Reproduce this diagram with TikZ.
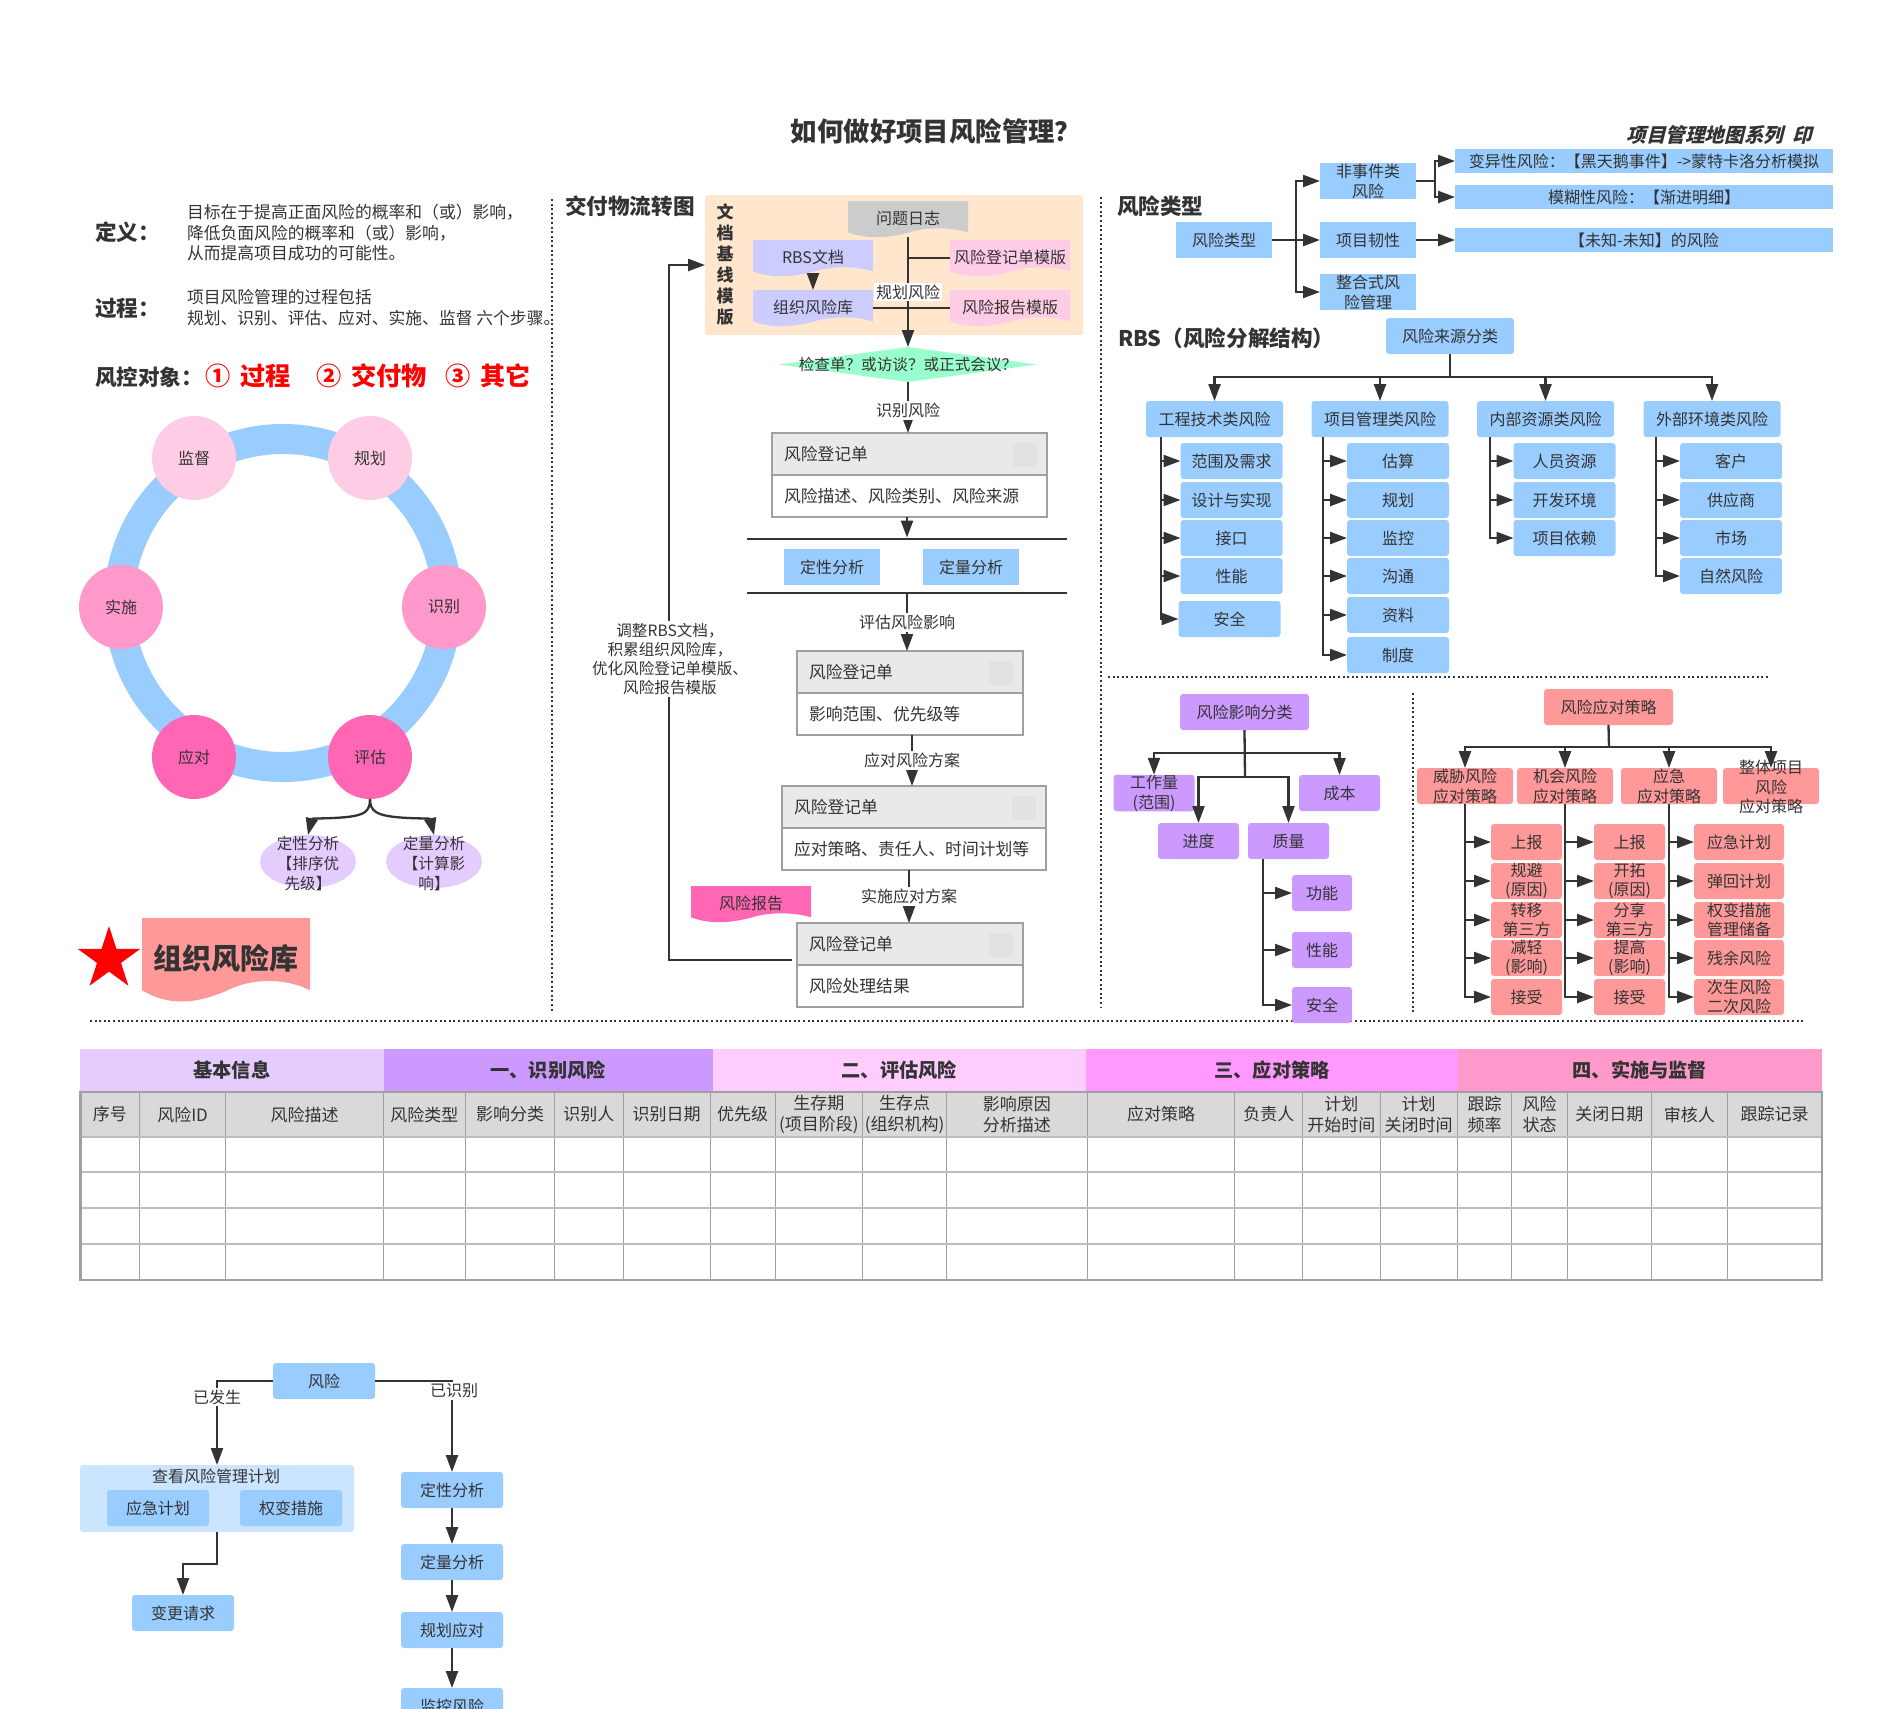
\documentclass[tikz,border=0pt]{standalone}
\usepackage{fontspec}
\setmainfont{Noto Sans CJK SC}
\usepackage{xcolor}
\usetikzlibrary{arrows.meta,shapes.geometric}
\definecolor{ink}{HTML}{333333}
\definecolor{mapblue}{HTML}{99CCFF}
\definecolor{paleblue}{HTML}{CCE5FF}
\definecolor{mapviolet}{HTML}{CC99FF}
\definecolor{lilac}{HTML}{E5CCFF}
\definecolor{mapred}{HTML}{FF9999}
\definecolor{softpink}{HTML}{FFCCE6}
\definecolor{midpink}{HTML}{FF99CC}
\definecolor{hotpink}{HTML}{FF66B3}
\definecolor{mintgreen}{HTML}{99FFCC}
\definecolor{peach}{HTML}{FFE6CC}
\definecolor{docblue}{HTML}{CCCCFF}
\definecolor{docgray}{HTML}{CCCCCC}
\definecolor{cardgray}{HTML}{E9E9E9}
\definecolor{markgray}{HTML}{E2E2E2}
\definecolor{framegray}{HTML}{A0A0A0}
\definecolor{headgray}{HTML}{D9D9D9}
\definecolor{bandA}{HTML}{E5CCFF}
\definecolor{bandB}{HTML}{CC99FF}
\definecolor{bandC}{HTML}{FFCCFF}
\definecolor{bandD}{HTML}{FF99FF}
\definecolor{bandE}{HTML}{FF99CC}
\newcommand{\bodyfont}{\fontsize{8}{10}\selectfont}
\newcommand{\notefont}{\fontsize{8.4}{10.25}\selectfont}
\newcommand{\headfont}{\bfseries\fontsize{10.8}{12}\selectfont}
\newcommand{\bigfont}{\bfseries\fontsize{12.6}{15}\selectfont}
% wavy document shape with its name on top
\newcommand{\docnode}[7]{%
  \fill[#6] (#2,#3) -- (#2+#4,#3) -- (#2+#4,#3+.87*#5)
    .. controls (#2+.85*#4,#3+.72*#5) and (#2+.65*#4,#3+.72*#5) .. (#2+.5*#4,#3+.88*#5)
    .. controls (#2+.3*#4,#3+1.05*#5) and (#2+.15*#4,#3+1.05*#5) .. (#2,#3+.87*#5) -- cycle;
  \node[minimum width=#4*.5pt, minimum height=#5*.5pt] (#1) at (#2+.5*#4,#3+.5*#5) {\raisebox{1pt}{#7}};}
% register card: grey head, white body, small mark in the head
\newcommand{\riskcard}[6]{%
  \node[cardpart, fill=cardgray, text width=(#4-#2)*.5pt-12pt] (#1head) at (#2,#3) {#5};
  \node[cardpart, fill=white, text width=(#4-#2)*.5pt-12pt] (#1) at (#2,#3+42) {#6};
  \node[fill=markgray, minimum size=12pt, anchor=north east] (#1mark) at (#4-10,#3+10) {};}
\begin{document}
\begin{tikzpicture}[
    x=.5pt, y=-.5pt,
    every node/.style={inner sep=0pt, outer sep=0pt, align=center, font=\bodyfont, text=ink},
    flow/.style={draw=ink, line width=1.15pt, -{Triangle[length=8.5pt,width=6pt]}},
    plainline/.style={draw=ink, line width=1.15pt},
    dotline/.style={draw=ink, line width=1pt, dash pattern=on 1pt off 1.3pt},
    edgelbl/.style={fill=white, inner sep=1pt},
    rootbox/.style={fill=mapblue, rounded corners=1.5pt, minimum height=18pt, minimum width=68.5pt},
    leafbox/.style={fill=mapblue, rounded corners=1.5pt, minimum height=18pt, minimum width=51pt},
    widebox/.style={fill=mapblue, minimum width=189pt, minimum height=12pt},
    violetbox/.style={fill=mapviolet, rounded corners=1.5pt, minimum width=40.5pt, minimum height=18pt},
    smallviolet/.style={fill=mapviolet, rounded corners=1.5pt, minimum width=30pt, minimum height=18pt},
    redroot/.style={fill=mapred, rounded corners=1.5pt, minimum width=48pt, minimum height=18pt},
    redbox/.style={fill=mapred, rounded corners=1.5pt, minimum width=35.5pt, minimum height=18pt},
    redwide/.style={redbox, minimum width=45pt},
    ringnode/.style={circle, minimum size=42pt},
    oval/.style={ellipse, fill=lilac, minimum width=48pt, minimum height=26.5pt},
    cardpart/.style={draw=framegray, line width=.75pt, anchor=north west, inner xsep=6pt,
        align=left, minimum height=21pt, font=\notefont},
    cellline/.style={draw=framegray, line width=.5pt},
    rowline/.style={draw=framegray!70, line width=.9pt},
    tableframe/.style={draw=framegray, line width=1.1pt},
    rednote/.style={font=\bigfont, text=red, anchor=west}
]
\useasboundingbox (0,0) rectangle (1892,1709);

\node[font=\bfseries\fontsize{13.2}{15}\selectfont] (title) at (936,131) {如何做好项目风险管理？};
\node[font=\bfseries\fontsize{9.8}{12}\selectfont, xslant=.25, transform shape] (series) at (1721,135) {项目管理地图系列~~印};

% dividers
\draw[dotline] (552,199) -- (552,1011);
\draw[dotline] (1101,197) -- (1101,1007);
\draw[dotline] (1108,677) -- (1770,677);
\draw[dotline] (1413,693) -- (1413,1013);
\draw[dotline] (90,1021) -- (1803,1021);

% left column
\node[font=\headfont, anchor=west] (defhead) at (95,232) {定义：};
\node[anchor=west, align=left, font=\notefont] (deftext) at (187,233) {目标在于提高正面风险的概率和（或）影响，\\降低负面风险的概率和（或）影响，\\从而提高项目成功的可能性。};
\node[font=\headfont, anchor=west] (prochead) at (95,308) {过程：};
\node[anchor=west, align=left, font=\notefont] (proctext) at (187,307.5) {项目风险管理的过程包括\\规划、识别、评估、应对、实施、监督 六个步骤。};
\node[font=\headfont, anchor=west] (objhead) at (95,377) {风控对象：};
\node[rednote] (objone) at (205,376) {①\hspace{5pt}过程};
\node[rednote] (objtwo) at (316,376) {②\hspace{5pt}交付物};
\node[rednote] (objthree) at (445,376) {③\hspace{5pt}其它};

% process ring
\draw[mapblue, line width=15pt] (283,603) circle [radius=164];
\foreach \nm/\cx/\cy/\clr/\lbl in {supervise/194/458/softpink/监督, planning/370/458/softpink/规划,
    identify/444/607/midpink/识别, assess/370/757/hotpink/评估,
    respond/194/757/hotpink/应对, implement/121/607/midpink/实施}{
  \node[ringnode, fill=\clr] (\nm) at (\cx,\cy) {\lbl};
}
\node[oval] (qualoval) at (308,861.5) {};
\node[oval] (quantoval) at (434,861.5) {};
\draw[flow] (assess.south) .. controls (370,812) and (364,815) .. (347,817) .. controls (327,819) and (312,818) .. (qualoval.north);
\draw[flow] (assess.south) .. controls (370,812) and (378,815) .. (395,817) .. controls (415,819) and (430,818) .. (quantoval.north);
\node[font=\fontsize{7.8}{10}\selectfont] (qualtext) at (308,864) {定性分析\\【排序优\\先级】};
\node[font=\fontsize{7.8}{10}\selectfont] (quanttext) at (434,864) {定量分析\\【计算影\\响】};

\node[star, star points=5, star point ratio=2.618, fill=red, minimum size=33pt] (redstar) at (109,959) {};
\docnode{orglibdoc}{142}{918}{168}{83}{mapred}{\raisebox{2pt}{\bfseries\fontsize{14.5}{16}\selectfont 组织风险库}}

% deliverable flow
\node[font=\headfont, anchor=west] (flowhead) at (565,206) {交付物流转图};
\node[fill=peach, rounded corners=1.5pt, minimum width=189pt, minimum height=70pt] (docpanel) at (894,265) {};
\node[font=\bfseries\fontsize{8.5}{10.5}\selectfont] (docpaneltitle) at (725,265) {文\\档\\基\\线\\模\\版};
\docnode{issuelog}{848}{201}{120}{36}{docgray}{问题日志}
\docnode{rbsdoc}{753}{240}{120}{36}{docblue}{RBS文档}
\docnode{orglib}{753}{290}{120}{36}{docblue}{组织风险库}
\docnode{regtpl}{950}{240}{120}{36}{softpink}{风险登记单模版}
\docnode{reporttpl}{950}{290}{120}{36}{softpink}{风险报告模版}
\node[fill=mintgreen, diamond, aspect=7.4, minimum width=129pt, minimum height=17.5pt] (checkpoint) at (908,364.5) {};
\node[font=\fontsize{7.8}{10}\selectfont] (checktext) at (908,364.5) {检查单？或访谈？或正式会议？};
\draw[flow] (issuelog.south) -- (checkpoint.north);
\draw[plainline] (regtpl.west) -- (regtpl.west -| issuelog.south);
\draw[plainline] (orglib.east) -- (reporttpl.west);
\draw[flow] (rbsdoc.south) -- (orglib.north);
\node[edgelbl] (planlbl) at (908,292) {规划风险};

\riskcard{cardident}{772}{433}{1047}{风险登记单}{风险描述、风险类别、风险来源}
\riskcard{cardassess}{797}{651}{1023}{风险登记单}{影响范围、优先级等}
\riskcard{cardrespond}{782}{786}{1046}{风险登记单}{应对策略、责任人、时间计划等}
\riskcard{carddone}{797}{923}{1023}{风险登记单}{风险处理结果}
\node[fill=ink, minimum width=160pt, minimum height=1.4pt] (bara) at (907,539) {};
\node[fill=ink, minimum width=160pt, minimum height=1.4pt] (barb) at (907,593) {};
\node[fill=mapblue, minimum width=48pt, minimum height=18pt] (qualbar) at (832,567) {定性分析};
\node[fill=mapblue, minimum width=48pt, minimum height=18pt] (quantbar) at (971,567) {定量分析};
\coordinate (linkident) at (908,382);
\coordinate (linkassess) at (912,735);
\coordinate (linkrespond) at (909,870);
\draw[flow] (linkident) -- node[edgelbl, pos=.55] (identlbl) {识别风险} (linkident |- cardidenthead.north);
\draw[flow] (bara.north |- cardident.south) -- (bara.north);
\draw[flow] (barb.south) -- node[edgelbl] (assesslbl) {评估风险影响} (barb.south |- cardassesshead.north);
\draw[flow] (linkassess) -- node[edgelbl] (respondlbl) {应对风险方案} (linkassess |- cardrespondhead.north);
\draw[flow] (linkrespond) -- node[edgelbl] (dolbl) {实施应对方案} (linkrespond |- carddonehead.north);
\docnode{reportdoc}{691}{886}{120}{36}{hotpink}{风险报告}
\coordinate (backstart) at (792,960);
\coordinate (backup) at (669,265);
\draw[flow] (backstart) -| (backup) -- (docpanel.west);
\node[edgelbl, font=\fontsize{7.8}{9.6}\selectfont] (backlbl) at (670,659) {调整RBS文档，\\积累组织风险库，\\优化风险登记单模版、\\风险报告模版};

% risk types
\node[font=\headfont, anchor=west] (typehead) at (1117,206) {风险类型};
\node[fill=mapblue, minimum width=48pt, minimum height=18pt] (risktype) at (1224,240) {风险类型};
\node[fill=mapblue, minimum width=48pt, minimum height=18pt] (nonevent) at (1368,181) {非事件类\\风险};
\node[fill=mapblue, minimum width=48pt, minimum height=18pt] (resilience) at (1368,240) {项目韧性};
\node[fill=mapblue, minimum width=48pt, minimum height=18pt] (integrated) at (1368,292) {整合式风\\险管理};
\node[widebox] (variance) at (1644,161) {变异性风险：【黑天鹅事件】->蒙特卡洛分析模拟};
\node[widebox] (fuzzy) at (1644,197) {模糊性风险：【渐进明细】};
\node[widebox] (unknown) at (1644,240) {【未知-未知】的风险};
\coordinate (typebus) at (1296,240);
\coordinate (eventbus) at (1435,181);
\draw[flow] (risktype.east) -- (resilience.west);
\draw[flow] (typebus) |- (nonevent.west);
\draw[flow] (typebus) |- (integrated.west);
\draw[plainline] (nonevent.east) -- (eventbus);
\draw[flow] (eventbus) |- (variance.west);
\draw[flow] (eventbus) |- (fuzzy.west);
\draw[flow] (resilience.east) -- (unknown.west);

% risk breakdown structure
\node[font=\headfont, anchor=west] (rbshead) at (1118,338) {RBS（风险分解结构）};
\node[rootbox, minimum width=64pt] (source) at (1450,336) {风险来源分类};
\node[rootbox] (tech) at (1214.5,419) {工程技术类风险};
\node[rootbox] (mgmt) at (1380,419) {项目管理类风险};
\node[rootbox] (inner) at (1545.5,419) {内部资源类风险};
\node[rootbox] (outer) at (1712,419) {外部环境类风险};
\coordinate (srcbus) at (1450,377);
\draw[plainline] (source.south) -- (srcbus);
\foreach \nm in {tech,mgmt,inner,outer}{
  \draw[flow] (srcbus) -| (\nm.north);
}
\coordinate (techbus) at (1161,437);
\coordinate (mgmtbus) at (1323,437);
\coordinate (innerbus) at (1490,437);
\coordinate (outerbus) at (1656,437);
\foreach \lbl/\yc [count=\i] in {范围及需求/461,设计与实现/500,接口/538,性能/576}{
  \node[leafbox] (tech\i) at (1231.5,\yc) {\lbl};
  \draw[flow] (techbus |- tech\i.west) -- (tech\i.west);
}
\node[leafbox] (tech5) at (1229.5,619) {安全};
\draw[flow] (techbus) |- (tech5.west);
\foreach \lbl/\yc [count=\i] in {估算/461,规划/500,监控/538,沟通/576,资料/615,制度/655}{
  \node[leafbox] (mgmt\i) at (1398,\yc) {\lbl};
  \draw[flow] (mgmtbus) |- (mgmt\i.west);
}
\foreach \lbl/\yc [count=\i] in {人员资源/461,开发环境/500,项目依赖/538}{
  \node[leafbox] (inner\i) at (1564.5,\yc) {\lbl};
  \draw[flow] (innerbus) |- (inner\i.west);
}
\foreach \lbl/\yc [count=\i] in {客户/461,供应商/500,市场/538,自然风险/576}{
  \node[leafbox] (outer\i) at (1731,\yc) {\lbl};
  \draw[flow] (outerbus) |- (outer\i.west);
}

% impact classes
\node[violetbox, minimum width=64.5pt] (impact) at (1244.5,712) {风险影响分类};
\node[violetbox] (workload) at (1154,793) {工作量\\(范围)};
\node[violetbox] (cost) at (1339.5,793) {成本};
\node[violetbox] (schedule) at (1198.5,841) {进度};
\node[violetbox] (quality) at (1288.5,841) {质量};
\coordinate (impactup) at (1245,753);
\coordinate (impactdown) at (1245,777);
\draw[plainline] (impact.south) -- (impactdown);
\draw[flow] (impactup) -| (workload.north);
\draw[flow] (impactup) -| (cost.north);
\draw[flow] (impactdown) -| (schedule.north);
\draw[flow] (impactdown) -| (quality.north);
\coordinate (qualitybus) at (1263,859);
\foreach \nm/\lbl/\yc in {qfunc/功能/893,qperf/性能/950,qsafe/安全/1005}{
  \node[smallviolet] (\nm) at (1322,\yc) {\lbl};
  \draw[flow] (qualitybus) |- (\nm.west);
}

% response strategies
\node[redroot, minimum width=64.5pt] (strategy) at (1608.5,707) {风险应对策略};
\node[redroot] (threat) at (1465,786) {威胁风险\\应对策略};
\node[redroot] (chance) at (1565,786) {机会风险\\应对策略};
\node[redroot] (urgent) at (1669,786) {应急\\应对策略};
\node[redroot] (whole) at (1771,786) {};
\node[font=\fontsize{8}{9.6}\selectfont] (wholetext) at (1771,787) {整体项目\\风险\\应对策略};
\coordinate (strategybus) at (1609,747);
\draw[plainline] (strategy.south) -- (strategybus);
\foreach \nm in {threat,chance,urgent,whole}{
  \draw[flow] (strategybus) -| (\nm.north);
}
\foreach \nm/\lbl/\yc in {threat1/上报/842,threat2/{规避\\(原因)}/881,threat3/{转移\\第三方}/920,threat4/{减轻\\(影响)}/958,threat5/接受/997}{
  \node[redbox, font=\fontsize{8}{9.5}\selectfont] (\nm) at (1526.5,\yc) {\lbl};
  \draw[flow] (threat.south) |- (\nm.west);
}
\foreach \nm/\lbl/\yc in {chance1/上报/842,chance2/{开拓\\(原因)}/881,chance3/{分享\\第三方}/920,chance4/{提高\\(影响)}/958,chance5/接受/997}{
  \node[redbox, font=\fontsize{8}{9.5}\selectfont] (\nm) at (1629.5,\yc) {\lbl};
  \draw[flow] (chance.south) |- (\nm.west);
}
\foreach \nm/\lbl/\yc in {urgent1/应急计划/842,urgent2/弹回计划/881,urgent3/{权变措施\\管理储备}/920,urgent4/残余风险/958,urgent5/{次生风险\\二次风险}/997}{
  \node[redwide, font=\fontsize{8}{9.5}\selectfont] (\nm) at (1739,\yc) {\lbl};
  \draw[flow] (urgent.south) |- (\nm.west);
}

% risk register table
\fill[headgray] (80.4,1092) rectangle (1821.6,1137);
\foreach \xa/\xb/\clr/\lbl [count=\i] in {80.4/383.5/bandA/基本信息, 383.5/712.7/bandB/一、识别风险,
    712.7/1086/bandC/二、评估风险, 1086/1458/bandD/三、应对策略, 1458/1821.6/bandE/四、实施与监督}{
  \fill[\clr] (\xa,1049) rectangle (\xb,1091);
  \node[font=\bfseries\fontsize{9.6}{11}\selectfont] (band\i) at ({(\xa+\xb)/2},1070) {\lbl};
}
\foreach \xa/\xb/\lbl [count=\i] in {80.4/139.5/序号, 139.5/225.7/风险ID, 225.7/383.5/风险描述,
    383.5/465.2/风险类型, 465.2/554.9/影响分类, 554.9/623/识别人, 623/710.4/识别日期,
    710.4/775/优先级, 775/862.5/{生存期\\(项目阶段)}, 862.5/946.5/{生存点\\(组织机构)},
    946.5/1087.2/{影响原因\\分析描述}, 1087.2/1234.8/应对策略, 1234.8/1302.9/负责人,
    1302.9/1380/{计划\\开始时间}, 1380/1457.3/{计划\\关闭时间}, 1457.3/1511.8/{跟踪\\频率},
    1511.8/1567.4/{风险\\状态}, 1567.4/1651.4/关闭日期, 1651.4/1727.4/审核人, 1727.4/1821.6/跟踪记录}{
  \node[font=\fontsize{8.5}{10.5}\selectfont] (col\i) at ({(\xa+\xb)/2},1114.5) {\lbl};
  \draw[cellline] (\xb,1092) -- (\xb,1280);
}
\foreach \yy in {1137,1172,1208,1244}{
  \draw[rowline] (80.4,\yy) -- (1821.6,\yy);
}
\draw[tableframe] (80.4,1092) rectangle (1821.6,1280);

% risk handling below the table
\node[rootbox, minimum width=51pt] (risk) at (324,1381) {风险};
\node[fill=paleblue, rounded corners=1.5pt, minimum width=137pt, minimum height=33.5pt] (planpanel) at (217,1498.5) {};
\node (plantitle) at (216,1476) {查看风险管理计划};
\node[rootbox, minimum width=51pt] (contingency) at (158,1508) {应急计划};
\node[rootbox, minimum width=51pt] (workaround) at (291,1508) {权变措施};
\node[rootbox, minimum width=51pt] (change) at (183,1613) {变更请求};
\foreach \nm/\lbl/\yc in {qualstep/定性分析/1490,quantstep/定量分析/1562,planstep/规划应对/1630,watchstep/监控风险/1706}{
  \node[rootbox, minimum width=51pt] (\nm) at (452,\yc) {\lbl};
}
\draw[flow] (risk.west) -| (planpanel.north);
\draw[flow] (risk.east) -| (qualstep.north);
\node[edgelbl] (happened) at (217,1397) {已发生};
\node[edgelbl] (known) at (454,1391) {已识别};
\draw[flow] (planpanel.south) -- ++(0,32) -| (change.north);
\draw[flow] (qualstep) -- (quantstep);
\draw[flow] (quantstep) -- (planstep);
\draw[flow] (planstep) -- (watchstep);
\end{tikzpicture}
\end{document}
